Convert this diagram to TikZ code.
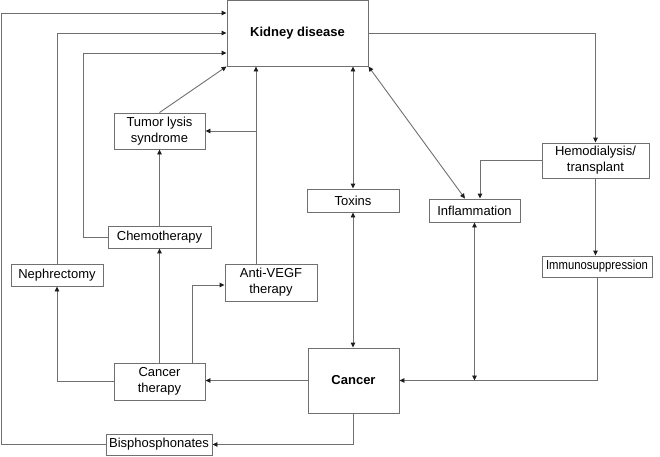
\documentclass[tikz,border=0pt]{standalone}
\usepackage{fontspec}
\usepackage{graphicx}
\setmainfont{Liberation Sans}
\usetikzlibrary{arrows.meta}
\definecolor{ln}{RGB}{112,112,112}
\definecolor{tip}{RGB}{30,30,30}
\begin{document}
\begin{tikzpicture}[x=1pt,y=-1pt,
  box/.style={draw=ln, line width=0.9pt, rectangle, inner sep=0pt, align=center,
    font=\fontsize{13}{16}\selectfont},
  arr/.style={draw=ln, line width=0.9pt, -{Triangle[length=5pt,width=4.5pt,color=tip]}},
  darr/.style={draw=ln, line width=0.9pt, {Triangle[length=5pt,width=4.5pt,color=tip]}-{Triangle[length=5pt,width=4.5pt,color=tip]}}]
\useasboundingbox (0,0) rectangle (660,456);
\node[box, minimum width=141pt, minimum height=66pt, font=\fontsize{13}{16}\selectfont\bfseries] (kd) at (297.5,33) {Kidney disease};
\node[box, minimum width=91pt, minimum height=36pt] (tls) at (159.5,131) {Tumor lysis\\syndrome};
\node[box, minimum width=103pt, minimum height=22pt] (chemo) at (159.5,237) {Chemotherapy};
\node[box, minimum width=92pt, minimum height=22pt] (neph) at (57,275) {Nephrectomy};
\node[box, minimum width=92pt, minimum height=37pt] (avegf) at (271,282.5) {Anti-VEGF\\therapy};
\node[box, minimum width=91pt, minimum height=37pt] (ct) at (159.5,381.5) {Cancer\\therapy};
\node[box, minimum width=91pt, minimum height=65pt, font=\fontsize{13}{16}\selectfont\bfseries] (cancer) at (353.5,380.5) {Cancer};
\node[box, minimum width=106pt, minimum height=21pt] (bis) at (159,444.5) {Bisphosphonates};
\node[box, minimum width=92pt, minimum height=23pt] (toxins) at (353,200.5) {Toxins};
\node[box, minimum width=91pt, minimum height=23pt] (infl) at (474.5,210.5) {Inflammation};
\node[box, minimum width=107pt, minimum height=35pt] (hemo) at (595.5,160.5) {Hemodialysis/\\transplant};
\node[box, minimum width=110pt, minimum height=21pt] (immuno) at (597,266.5) {\scalebox{0.87}[1]{\fontsize{13}{16}\selectfont Immunosuppression}};
\coordinate (bisleft) at (1,13);
\coordinate (chemoleft) at (83,53);
\coordinate (avx) at (256,131);
\coordinate (ctx) at (192,285);
\draw[arr] (bis.west) -| (bisleft) -- (kd.west|-bisleft);
\draw[arr] (neph.north) |- (kd.west|-0,33);
\draw[arr] (chemo.west) -| (chemoleft) -- (kd.west|-chemoleft);
\draw[arr] (tls.north) -- (kd.south west);
\draw[arr] (avegf.north-|avx) -- (kd.south-|avx);
\draw[arr] (avx) -- (tls.east);
\draw[arr] (chemo.north) -- (tls.south);
\draw[arr] (ct.north) -- (chemo.south);
\draw[arr] (ct.north-|ctx) |- (avegf.west|-ctx);
\draw[arr] (ct.west) -| (neph.south);
\draw[arr] (cancer.west) -- (ct.east|-cancer.west);
\draw[arr] (cancer.south) |- (bis.east);
\draw[darr] (kd.south-|toxins.north) -- (toxins.north);
\draw[darr] (toxins.south) -- (toxins.south|-cancer.north);
\draw[darr] (kd.south east) -- (infl.north-|465,0);
\draw[arr] (kd.east) -| (hemo.north);
\draw[arr] (hemo.west) -| (infl.north-|480,0);
\draw[arr] (hemo.south) -- (hemo.south|-immuno.north);
\draw[arr] (immuno.south) |- (cancer.east);
\draw[darr] (infl.south) -- (infl.south|-cancer.east);
\end{tikzpicture}
\end{document}
